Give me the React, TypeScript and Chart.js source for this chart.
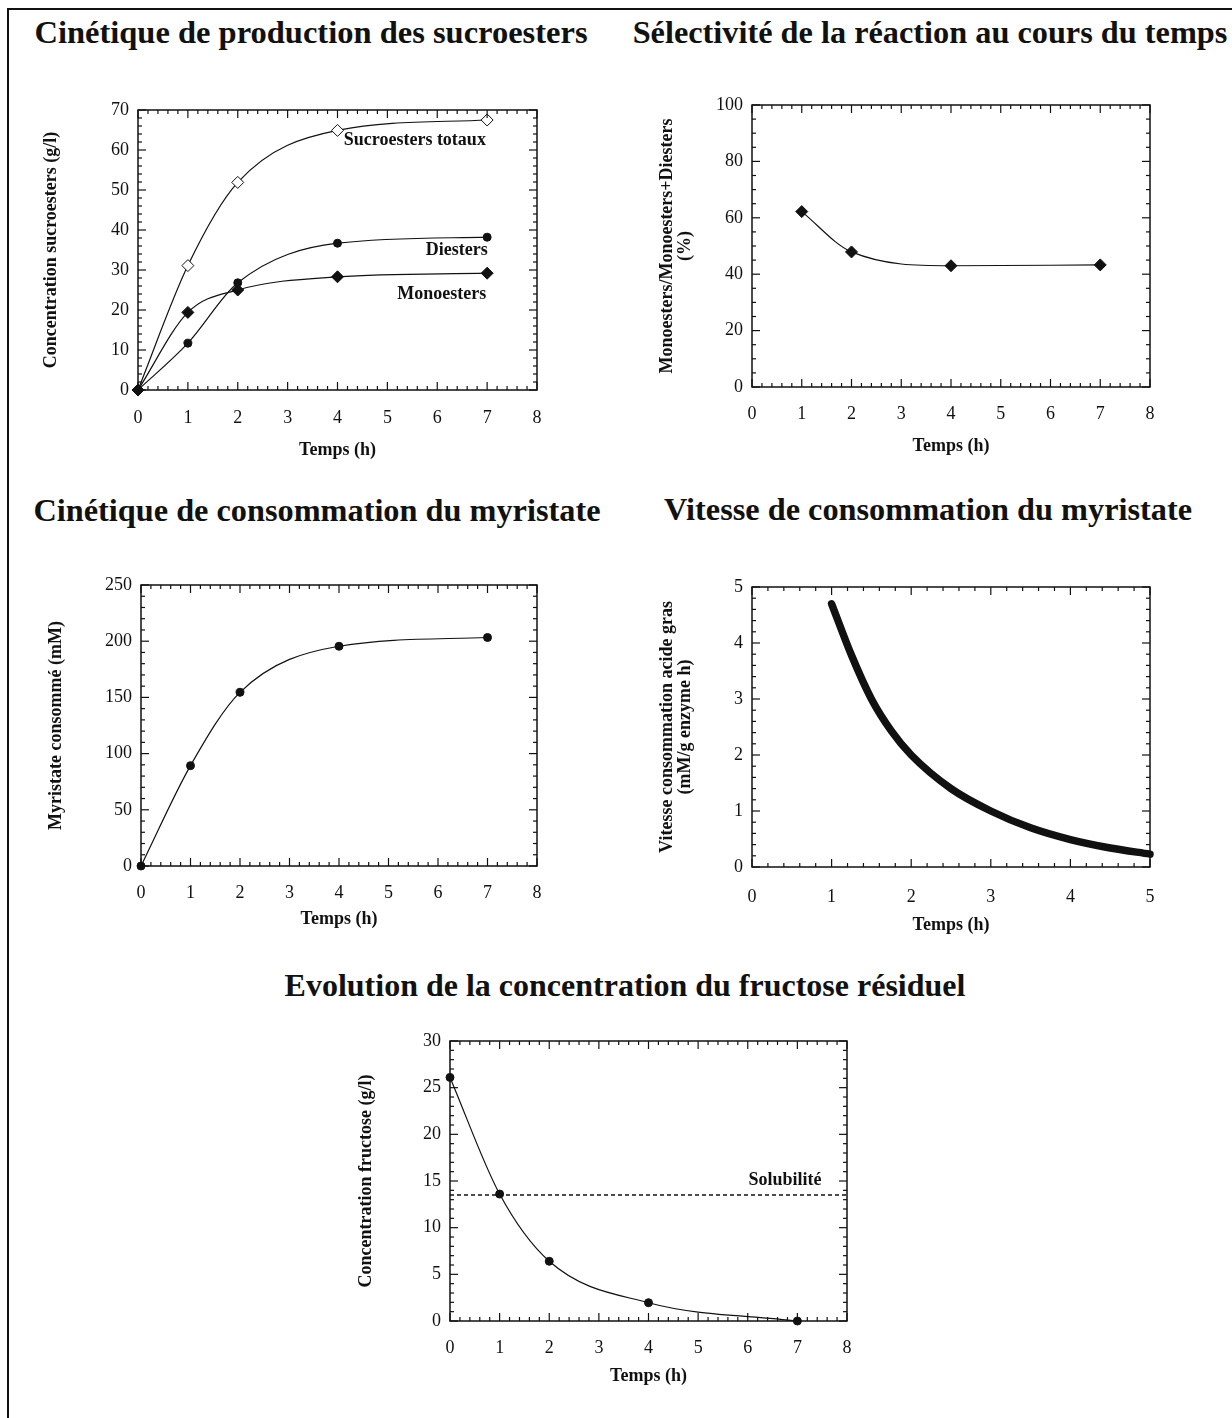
import React, { useEffect, useRef } from "react";
import { Chart, registerables } from "chart.js";

Chart.register(...registerables);

const SERIF = "'Liberation Serif', 'Times New Roman', serif";
const INK = "#111";

// ---- Chart 1 : Cinétique de production des sucroesters
const timeProd = [0, 1, 2, 4, 7];
const totaux = [0, 31.1, 51.9, 64.9, 67.5];
const diesters = [0, 11.7, 26.8, 36.7, 38.2];
const monoesters = [0, 19.4, 25.0, 28.3, 29.2];
const prodLabels = ["Sucroesters totaux", "Diesters", "Monoesters"];
const prodLabelX = [5.55, 6.39, 6.09];
const prodLabelY = [62.3, 34.8, 24.0];

// ---- Chart 2 : Sélectivité
const timeSel = [1, 2, 4, 7];
const selectivite = [62.2, 47.9, 43.0, 43.3];

// ---- Chart 3 : Consommation du myristate
const timeMyr = [0, 1, 2, 4, 7];
const myristate = [0, 89.3, 154.5, 195.5, 203.3];

// ---- Chart 4 : Vitesse de consommation
const timeVit = [1, 1.25, 1.5, 1.75, 2, 2.5, 3, 3.5, 4, 4.5, 5];
const vitesse = [4.7, 3.78, 3.0, 2.43, 2.0, 1.4, 1.0, 0.7, 0.49, 0.34, 0.23];

// ---- Chart 5 : Fructose résiduel
const timeFru = [0, 1, 2, 4, 7];
const fructose = [26.1, 13.6, 6.4, 1.96, 0.0];
const solubiliteX = [0, 8];
const solubiliteY = [13.5, 13.5];
const fruLabels = ["Solubilité"];
const fruLabelX = [6.75];
const fruLabelY = [15.1];

const pts = (xs: number[], ys: number[]) => xs.map((x, i) => ({ x, y: ys[i] }));

const framePlugin = {
  id: "frameTicks",
  afterDraw(chart: any, _args: any, opts: any) {
    const { ctx, chartArea } = chart;
    const { left, right, top, bottom } = chartArea;
    const xs = chart.scales.x;
    const ys = chart.scales.y;
    ctx.save();
    ctx.strokeStyle = INK;
    ctx.lineWidth = 1.5;
    ctx.strokeRect(left, top, right - left, bottom - top);
    ctx.lineWidth = 1.2;
    const seg = (a: number, b: number, c: number, d: number) => {
      ctx.beginPath();
      ctx.moveTo(a, b);
      ctx.lineTo(c, d);
      ctx.stroke();
    };
    const isMajor = (v: number, step: number) => Math.abs(v / step - Math.round(v / step)) < 1e-6;
    const nx = Math.round((xs.max - xs.min) / opts.xMinor);
    for (let i = 0; i <= nx; i++) {
      const v = xs.min + i * opts.xMinor;
      const len = isMajor(v, opts.xMajor) ? 8 : 4;
      const p = xs.getPixelForValue(v);
      seg(p, bottom, p, bottom - len);
      seg(p, top, p, top + len);
    }
    const ny = Math.round((ys.max - ys.min) / opts.yMinor);
    for (let i = 0; i <= ny; i++) {
      const v = ys.min + i * opts.yMinor;
      const len = isMajor(v, opts.yMajor) ? 8 : 4;
      const p = ys.getPixelForValue(v);
      seg(left, p, left + len, p);
      seg(right, p, right - len, p);
    }
    ctx.restore();
  },
};

const textPlugin = {
  id: "textNotes",
  afterDatasetsDraw(chart: any, _args: any, opts: any) {
    const notes = opts.notes || [];
    if (!notes.length) return;
    const { ctx } = chart;
    ctx.save();
    ctx.fillStyle = INK;
    ctx.font = `bold 18px ${SERIF}`;
    ctx.textAlign = "center";
    ctx.textBaseline = "middle";
    notes.forEach((n: any) => {
      ctx.fillText(n.text, chart.scales.x.getPixelForValue(n.x), chart.scales.y.getPixelForValue(n.y));
    });
    ctx.restore();
  },
};

type Geom = {
  cx: number; cy: number; cw: number; ch: number;
  L: number; R: number; T: number; B: number;
  yTitlePad: number; xTitlePad: number; xTickPad: number; yTickPad: number;
};

function buildOptions(g: Geom, ax: any, notes: any[]) {
  const yWidth = g.L - g.cx;
  const xHeight = g.cy + g.ch - g.B;
  return {
    animation: false,
    responsive: false,
    maintainAspectRatio: false,
    layout: { padding: { left: 0, bottom: 0, top: g.T - g.cy, right: g.cx + g.cw - g.R } },
    plugins: {
      legend: { display: false },
      tooltip: { enabled: false },
      frameTicks: { xMinor: ax.xMinor, xMajor: ax.xMajor, yMinor: ax.yMinor, yMajor: ax.yMajor },
      textNotes: { notes },
    },
    scales: {
      x: {
        type: "linear",
        min: ax.xMin,
        max: ax.xMax,
        ticks: {
          stepSize: ax.xMajor,
          font: { family: SERIF, size: 18 },
          color: INK,
          padding: g.xTickPad,
          maxRotation: 0,
          autoSkip: false,
        },
        grid: { display: false, drawTicks: false },
        border: { display: false },
        title: {
          display: true,
          text: "Temps (h)",
          font: { family: SERIF, size: 18, weight: "bold" },
          color: INK,
          padding: { top: 0, bottom: g.xTitlePad },
        },
        afterFit: (s: any) => {
          s.height = xHeight;
        },
      },
      y: {
        type: "linear",
        min: ax.yMin,
        max: ax.yMax,
        ticks: {
          stepSize: ax.yMajor,
          font: { family: SERIF, size: 18 },
          color: INK,
          padding: g.yTickPad,
        },
        grid: { display: false, drawTicks: false },
        border: { display: false },
        title: {
          display: true,
          text: ax.yTitle,
          font: { family: SERIF, size: 18, weight: "bold", lineHeight: 1.0 },
          color: INK,
          padding: { top: g.yTitlePad, bottom: 0 },
        },
        afterFit: (s: any) => {
          s.width = yWidth;
        },
      },
    },
  };
}

const lineDs = (data: any[], extra: any = {}) => ({
  data,
  borderColor: INK,
  borderWidth: 1.2,
  cubicInterpolationMode: "monotone",
  pointBackgroundColor: INK,
  pointBorderColor: INK,
  pointBorderWidth: 1,
  pointRadius: 4,
  clip: false,
  ...extra,
});

type Spec = { geom: Geom; axes: any; datasets: any[]; notes: any[] };

const specs: Spec[] = [
  {
    geom: { cx: 20, cy: 90, cw: 590, ch: 380, L: 138, R: 537, T: 110, B: 390, yTitlePad: 22, xTitlePad: 9, xTickPad: 17, yTickPad: 9 },
    axes: { xMin: 0, xMax: 8, xMajor: 1, xMinor: 0.2, yMin: 0, yMax: 70, yMajor: 10, yMinor: 2, yTitle: "Concentration sucroesters (g/l)" },
    datasets: [
      lineDs(pts(timeProd, monoesters), { pointStyle: "rectRot", pointRadius: 6 }),
      lineDs(pts(timeProd, diesters), { pointStyle: "circle", pointRadius: 4 }),
      lineDs(pts(timeProd, totaux), { pointStyle: "rectRot", pointRadius: 6, pointBackgroundColor: "#fff" }),
    ],
    notes: prodLabels.map((t, i) => ({ text: t, x: prodLabelX[i], y: prodLabelY[i] })),
  },
  {
    geom: { cx: 630, cy: 85, cw: 600, ch: 385, L: 752, R: 1150, T: 105, B: 387, yTitlePad: 28, xTitlePad: 13, xTickPad: 16, yTickPad: 9 },
    axes: { xMin: 0, xMax: 8, xMajor: 1, xMinor: 0.2, yMin: 0, yMax: 100, yMajor: 20, yMinor: 5, yTitle: ["Monoesters/Monoesters+Diesters", "(%)"] },
    datasets: [lineDs(pts(timeSel, selectivite), { pointStyle: "rectRot", pointRadius: 6 })],
    notes: [],
  },
  {
    geom: { cx: 20, cy: 565, cw: 590, ch: 380, L: 141, R: 537, T: 585, B: 866, yTitlePad: 27, xTitlePad: 15, xTickPad: 16, yTickPad: 9 },
    axes: { xMin: 0, xMax: 8, xMajor: 1, xMinor: 0.2, yMin: 0, yMax: 250, yMajor: 50, yMinor: 10, yTitle: "Myristate consommé (mM)" },
    datasets: [lineDs(pts(timeMyr, myristate), { pointStyle: "circle", pointRadius: 4 })],
    notes: [],
  },
  {
    geom: { cx: 630, cy: 567, cw: 600, ch: 380, L: 752, R: 1150, T: 587, B: 867, yTitlePad: 28, xTitlePad: 11, xTickPad: 19, yTickPad: 9 },
    axes: { xMin: 0, xMax: 5, xMajor: 1, xMinor: 0.2, yMin: 0, yMax: 5, yMajor: 1, yMinor: 0.2, yTitle: ["Vitesse consommation acide gras", "(mM/g enzyme h)"] },
    datasets: [
      lineDs(pts(timeVit, vitesse), { borderWidth: 7.5, pointRadius: 0, borderCapStyle: "round", borderJoinStyle: "round" }),
    ],
    notes: [],
  },
  {
    geom: { cx: 330, cy: 1021, cw: 600, ch: 380, L: 450, R: 847, T: 1041, B: 1321, yTitlePad: 27, xTitlePad: 14, xTickPad: 16, yTickPad: 9 },
    axes: { xMin: 0, xMax: 8, xMajor: 1, xMinor: 0.2, yMin: 0, yMax: 30, yMajor: 5, yMinor: 1, yTitle: "Concentration fructose (g/l)" },
    datasets: [
      lineDs(pts(timeFru, fructose), { pointStyle: "circle", pointRadius: 4 }),
      lineDs(pts(solubiliteX, solubiliteY), { pointRadius: 0, borderDash: [4, 3], borderWidth: 1.5, cubicInterpolationMode: "default", tension: 0 }),
    ],
    notes: fruLabels.map((t, i) => ({ text: t, x: fruLabelX[i], y: fruLabelY[i] })),
  },
];

const titles = [
  { text: "Cinétique de production des sucroesters", x: 311, y: 32, size: 32.5 },
  { text: "Sélectivité de la réaction au cours du temps", x: 930, y: 32, size: 32.3 },
  { text: "Cinétique de consommation du myristate", x: 317, y: 510, size: 32.3 },
  { text: "Vitesse de consommation du myristate", x: 928, y: 509, size: 32.3 },
  { text: "Evolution de la concentration du fructose résiduel", x: 625, y: 985, size: 32 },
];

function ChartBox({ spec }: { spec: Spec }) {
  const ref = useRef<HTMLCanvasElement | null>(null);
  useEffect(() => {
    if (!ref.current) return;
    const chart = new Chart(ref.current, {
      type: "line",
      data: { datasets: spec.datasets },
      options: buildOptions(spec.geom, spec.axes, spec.notes) as any,
      plugins: [framePlugin, textPlugin],
    } as any);
    return () => chart.destroy();
  }, [spec]);
  const g = spec.geom;
  return (
    <canvas
      ref={ref}
      width={g.cw}
      height={g.ch}
      style={{ position: "absolute", left: g.cx, top: g.cy, width: g.cw, height: g.ch }}
    />
  );
}

export default function App() {
  return (
    <div style={{ position: "absolute", left: 0, top: 0, width: 1232, height: 1418, background: "#fff", overflow: "hidden" }}>
      <div style={{ position: "absolute", left: 7, top: 8, width: 1225, height: 2, background: INK }} />
      <div style={{ position: "absolute", left: 7, top: 8, width: 2, height: 1410, background: INK }} />
      {titles.map((t, i) => (
        <div
          key={i}
          style={{
            position: "absolute",
            left: t.x - 500,
            width: 1000,
            top: t.y - 19,
            lineHeight: "38px",
            textAlign: "center",
            fontFamily: SERIF,
            fontWeight: "bold",
            fontSize: t.size,
            color: INK,
            whiteSpace: "nowrap",
          }}
        >
          {t.text}
        </div>
      ))}
      {specs.map((s, i) => (
        <ChartBox key={i} spec={s} />
      ))}
    </div>
  );
}
